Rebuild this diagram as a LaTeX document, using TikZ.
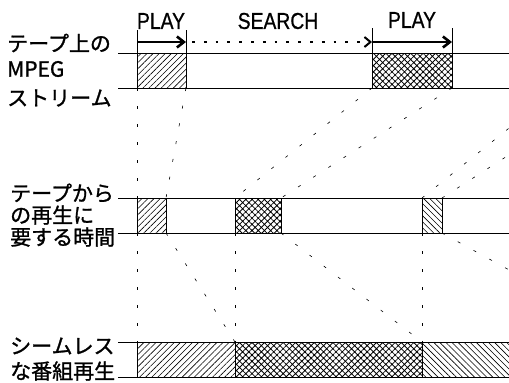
\documentclass[tikz,border=0pt]{standalone}
\usepackage{fontspec}
\newfontfamily\jpfont[FakeBold=1.2]{Noto Sans CJK JP}
\newfontfamily\modefont[FakeStretch=0.84,FakeBold=0.8]{Liberation Sans}
\usepackage{tikz}
\usetikzlibrary{patterns.meta,arrows.meta}

\tikzset{
  seg/.style={draw,line width=1pt,inner sep=0pt,outer sep=0pt,anchor=north west,minimum height=35pt},
  playA/.style={seg,pattern={Lines[angle=45,distance=4.3pt,line width=0.6pt]}},
  playB/.style={seg,pattern={Lines[angle=-45,distance=4.3pt,line width=0.6pt]}},
  srch/.style={seg,pattern={Hatch[angle=45,distance=4.4pt,line width=0.8pt]}},
  guide/.style={line width=0.6pt,dash pattern=on 3pt off 15pt},
  jlab/.style={anchor=west,inner sep=0pt,font=\jpfont\fontsize{21}{21}\selectfont},
  mode/.style={inner sep=0pt,font=\modefont\fontsize{23}{23}\selectfont},
}

\begin{document}
\begin{tikzpicture}[x=1pt,y=-1pt]
  \useasboundingbox (0,0) rectangle (509,383);
  \clip (0,0) rectangle (509,383);
          % labels on the left
          \node[jlab] (l1) at (7,43) {テープ上の};
          \node[jlab] (l2) at (7,69) {MPEG};
          \node[jlab] (l3) at (7,98) {ストリーム};
          \node[jlab] (l4) at (10,193) {テープから};
          \node[jlab] (l5) at (10,215) {の再生に};
          \node[jlab] (l6) at (10,237) {要する時間};
          \node[jlab] (l7) at (10,346) {シームレス};
          \node[jlab] (l8) at (10,371) {な番組再生};
          % band lines
          \draw[line width=0.8pt] (118,53) -- (509,53);
          \draw[line width=0.8pt] (118,88) -- (509,88);
          \draw[line width=0.8pt] (118,198) -- (509,198);
          \draw[line width=0.8pt] (118,233) -- (509,233);
          \draw[line width=0.8pt] (118,342) -- (509,342);
          \draw[line width=0.8pt] (118,377) -- (509,377);
          % blocks
          \node[playA,minimum width=49pt] (tA) at (137,53) {};
          \node[srch,minimum width=80pt] (tB) at (372,53) {};
          \node[playA,minimum width=29pt] (mA) at (137,198) {};
          \node[srch,minimum width=46pt] (mB) at (235,198) {};
          \node[playB,minimum width=20pt] (mC) at (422,198) {};
          \node[playA,minimum width=98pt] (bA) at (137,342) {};
          \node[srch,minimum width=187pt] (bB) at (235,342) {};
          \node[playB,minimum width=100pt] (bC) at (422,342) {};
          % modes
          \node[mode] (p1) at (161,21) {PLAY};
          \node[mode] (s1) at (278,21) {SEARCH};
          \node[mode] (p2) at (412,20) {PLAY};
          \coordinate (a0) at (137,42);
          \coordinate (a1) at (186,42);
          \coordinate (a2) at (372,42);
          \coordinate (a3) at (452,42);
          \draw[line width=0.8pt] (tA.north west) -- ++(0,-23);
          \draw[line width=0.8pt] (tA.north east) -- ++(0,-23);
          \draw[line width=0.8pt] (tB.north west) -- ++(0,-25);
          \draw[line width=0.8pt] (tB.north east) -- ++(0,-25);
          \draw[line width=2.6pt,-{Straight Barb[length=7pt,width=11pt]}] (a0) -- (a1);
          \draw[line width=2.8pt,dash pattern=on 2.8pt off 9pt,-{Straight Barb[length=6pt,width=10pt,line width=2pt]}] ([xshift=6pt]a1) -- (a2);
          \draw[line width=2.6pt,-{Straight Barb[length=7pt,width=11pt]}] (a2) -- (a3);
          % guides
          \coordinate (oA) at (559,88);
          \coordinate (oB) at (613,88);
          \coordinate (oC) at (640,342);
          \draw[guide] (tA.south west) -- (mA.north west);
          \draw[guide] (tA.south east) -- (mA.north east);
          \draw[guide] (tB.south west) -- (mB.north west);
          \draw[guide] (tB.south east) -- (mB.north east);
          \draw[guide] (mC.north west) -- (oA);
          \draw[guide] (mC.north east) -- (oB);
          \draw[guide] (mA.south west) -- (bA.north west);
          \draw[guide] (mA.south east) -- (bB.north west);
          \draw[guide] (mB.south west) -- (bA.north east);
          \draw[guide] (mB.south east) -- (bC.north west);
          \draw[guide] (mC.south west) -- (bC.north west);
          \draw[guide] (mC.south east) -- (oC);
\end{tikzpicture}
\end{document}
